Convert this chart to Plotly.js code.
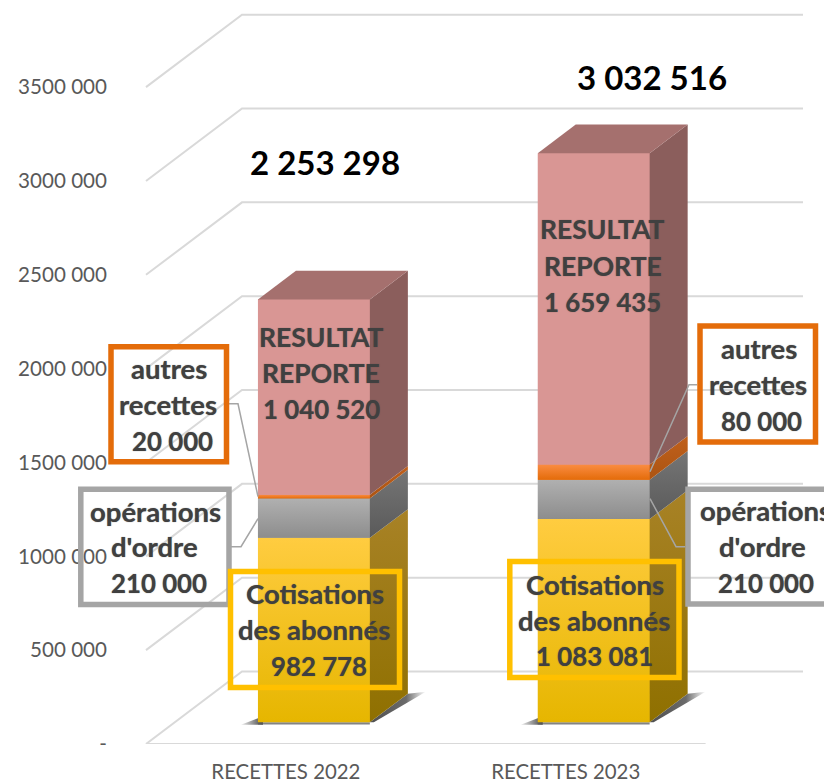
<!DOCTYPE html>
<html><head><meta charset="utf-8">
<script src="https://cdn.plot.ly/plotly-3.0.1.min.js"></script>
<style>html,body{margin:0;padding:0;background:#fff;overflow:hidden}</style>
</head><body><div id="chart" style="width:824px;height:784px"></div>
<script>
const categories = ["RECETTES 2022", "RECETTES 2023"];
const cotisations = [982778, 1083081];
const operations = [210000, 210000];
const autres = [20000, 80000];
const resultat = [1040520, 1659435];
const totals = ["2 253 298", "3 032 516"];
const tickValues = [0, 500000, 1000000, 1500000, 2000000, 2500000, 3000000, 3500000];
const tickLabels = ["-", "500 000", "1000 000", "1500 000", "2000 000", "2500 000", "3000 000", "3500 000"];

const W = 824, H = 784, L = 145, FLOOR = 744.5;
const PXX = 279.8, PXY = 187.8 / 1e6;           // pixels per x unit, per value
const xu = p => p / PXX, yu = p => p / PXY;
const barShiftX = 29, barShiftY = 21.7;          // bars stand inside the floor
const wallX = 96, wallY = 72.5;                  // wall sits behind the floor
const depthX = 38, depthY = 28.7;                // bar depth
const barW = 0.4;
const px = p => (p - L) / (W - L);               // paper coordinates
const py = p => 1 - p / FLOOR;
const centers = [0.5, 1.5];

const traces = [];
// walls and floor
const wallEnd = xu(802 - L);
tickValues.forEach(v => {
  traces.push({x:[0, xu(wallX), wallEnd], y:[v, v + yu(wallY), v + yu(wallY)], mode:'lines',
    line:{color:'#d9d9d9', width:2}, hoverinfo:'skip', showlegend:false, cliponaxis:false});
});
traces.push({x:[0, centers[1] + 0.5], y:[0, 0], mode:'lines', line:{color:'#d9d9d9', width:2}, hoverinfo:'skip', showlegend:false});

const on2 = t => Object.assign(t, {xaxis:'x2', yaxis:'y2', hoverinfo:'skip', showlegend:false});
const poly = (xs, ys, o) => on2(Object.assign({x:xs, y:ys, mode:'lines', fill:'toself', line:{width:0}}, o));

// floor shadows
centers.forEach(c => {
  const l = c - barW / 2, r = c + barW / 2;
  traces.push(poly([l - xu(17), l + xu(5), l + xu(5)], [-yu(2.5), yu(6), -yu(2.5)],
    {fillgradient:{type:'horizontal', colorscale:[[0,'rgba(70,70,70,0.1)'],[1,'rgba(60,60,60,0.95)']]}}));
  traces.push(poly([l, r, r, l], [-yu(2.2), -yu(2.2), 0, 0], {fillcolor:'rgba(90,90,90,0.75)'}));
  traces.push(poly([r, r + xu(depthX), r + xu(depthX + 18), r + xu(4)], [0, yu(depthY), yu(depthY + 2), 0],
    {fillgradient:{type:'horizontal', colorscale:[[0,'rgba(70,70,70,0.95)'],[0.65,'rgba(70,70,70,0.8)'],[1,'rgba(70,70,70,0)']]}}));
});

// bars through the library's stacking
const series = [
  {v:cotisations, c:'#f5c320', name:'Cotisations'},
  {v:operations, c:'#a0a0a0', name:'opérations'},
  {v:autres, c:'#f07c28', name:'autres'},
  {v:resultat, c:'#d99694', name:'RESULTAT'}
];
series.forEach(s => traces.push(on2({type:'bar', x:centers, y:s.v, width:barW, marker:{color:s.c, line:{width:0}}})));

// gradients on the faces
const faces = [
  {v:cotisations, f:['#e6b600','#ffcc40'], s:['#8f7000','#a88226']},
  {v:operations, f:['#8d8d8d','#b0b0b0'], s:['#5a5a5a','#757575']},
  {v:autres, f:['#e46c0a','#fa8c42'], s:['#ab5412','#c0601c']},
  {v:resultat, f:['#d99694','#d99694'], s:['#8b5e5c','#8b5e5c']}
];
centers.forEach((c, i) => {
  let b = 0;
  const l = c - barW / 2, r = c + barW / 2, dx = xu(depthX), dy = yu(depthY);
  faces.forEach(fc => {
    const t = b + fc.v[i];
    traces.push(poly([l, r, r, l, l], [b, b, t, t, b],
      {fillgradient:{type:'vertical', colorscale:[[0, fc.f[0]], [1, fc.f[1]]]}}));
    traces.push(poly([r, r + dx, r + dx, r, r], [b, b + dy, t + dy, t, b],
      {fillgradient:{type:'vertical', colorscale:[[0, fc.s[0]], [1, fc.s[1]]]}}));
    b = t;
  });
  traces.push(poly([l, r, r + dx, l + dx, l], [b, b, b + dy, b + dy, b], {fillcolor:'#a5706e'}));
});

// callouts
const GR = '#a5a5a5', OR = '#e46c0a', YE = '#ffc000';
const box = (x0, y0, x1, y1, col) => ({type:'rect', xref:'paper', yref:'paper', layer:'above',
  x0:px(x0), x1:px(x1), y0:py(y0), y1:py(y1), line:{color:col, width:5.5}, fillcolor:'rgba(0,0,0,0)'});
const leader = pts => ({type:'path', xref:'paper', yref:'paper', layer:'above',
  path:'M' + pts.map(p => px(p[0]) + ',' + py(p[1])).join(' L'), line:{color:GR, width:1.5}});
const shapes = [
  leader([[229,404],[238,404],[258,497]]),
  leader([[231,547],[241,547],[258,519]]),
  leader([[697,385],[689,385],[650,472]]),
  leader([[685,547],[676,547],[650,499]]),
  box(111,347,226.5,462,OR),
  box(80.8,489.5,229,605,GR),
  box(230.5,571.8,399.5,688,YE),
  box(509.8,562,679,678,YE),
  box(688,489.5,830,604.5,GR),
  box(700,326.2,815.5,442.2,OR)
];

const FONT = 'Lato, Carlito, "Open Sans", sans-serif';
const fmt = v => String(v).replace(/\B(?=(\d{3})+(?!\d))/g, ' ');
const line = (t, x, y, size) => ({text:'<b>' + t + '</b>', xref:'paper', yref:'paper', x:px(x), y:py(y - 1), xanchor:'center', yanchor:'middle',
  showarrow:false, font:{family:FONT, size:size || 27.5, color:'#404040', shadow:'0 0 1px rgba(64,64,64,0.7)'}});
const total = (t, x, y) => ({text:'<b>' + t + '</b>', xref:'paper', yref:'paper', x:px(x), y:py(y), xanchor:'center', yanchor:'middle',
  showarrow:false, font:{family:FONT, size:33, color:'#000'}});
const NUM = 25.8;
const annotations = [
  total(totals[0], 325, 162), total(totals[1], 652, 77),
  line('RESULTAT', 320.5, 338, 26.5), line('REPORTE', 320.5, 374, 26.5), line(fmt(resultat[0]), 321, 410, NUM),
  line('RESULTAT', 602, 230, 26.5), line('REPORTE', 602.5, 267, 26.5), line(fmt(resultat[1]), 602.5, 303, NUM),
  line('Cotisations', 314.5, 595), line('des abonnés', 314, 631), line(fmt(cotisations[0]), 318.5, 667, NUM),
  line('Cotisations', 594.5, 586), line('des abonnés', 594, 622), line(fmt(cotisations[1]), 594, 657, NUM),
  line('autres', 168.5, 370), line('recettes', 168, 406), line(fmt(autres[0]), 172, 442, NUM),
  line('autres', 758.5, 350), line('recettes', 757.5, 386), line(fmt(autres[1]), 761, 422, NUM),
  line('opérations', 155, 513), line("d'ordre", 154.5, 548), line(fmt(operations[0]), 158.5, 584, NUM),
  line('opérations', 765, 512), line("d'ordre", 762, 548), line(fmt(operations[1]), 765.5, 584, NUM)
];

const layout = {
  width:W, height:H, autosize:false, margin:{l:L, r:0, t:0, b:H - FLOOR},
  paper_bgcolor:'#fff', plot_bgcolor:'rgba(0,0,0,0)', showlegend:false, barmode:'stack',
  font:{family:FONT},
  xaxis:{range:[-xu(1), xu(W - L - 1)], tickvals:centers, ticktext:categories, showgrid:false, zeroline:false, showline:false, ticks:'',
    tickfont:{family:FONT, size:20.4, color:'#595959'}, ticklabelstandoff:14, fixedrange:true},
  yaxis:{range:[0, yu(FLOOR)], tickvals:tickValues, ticktext:tickLabels, showgrid:false, zeroline:false, showline:false, ticks:'',
    tickfont:{family:FONT, size:20.6, color:'#595959'}, ticklabelstandoff:37, fixedrange:true},
  xaxis2:{overlaying:'x', range:[-xu(barShiftX), xu(W - L - barShiftX)], visible:false, fixedrange:true},
  yaxis2:{overlaying:'y', range:[-yu(barShiftY), yu(FLOOR - barShiftY)], visible:false, fixedrange:true},
  shapes, annotations
};
Plotly.newPlot('chart', traces, layout, {displayModeBar:false, staticPlot:true});
</script></body></html>
